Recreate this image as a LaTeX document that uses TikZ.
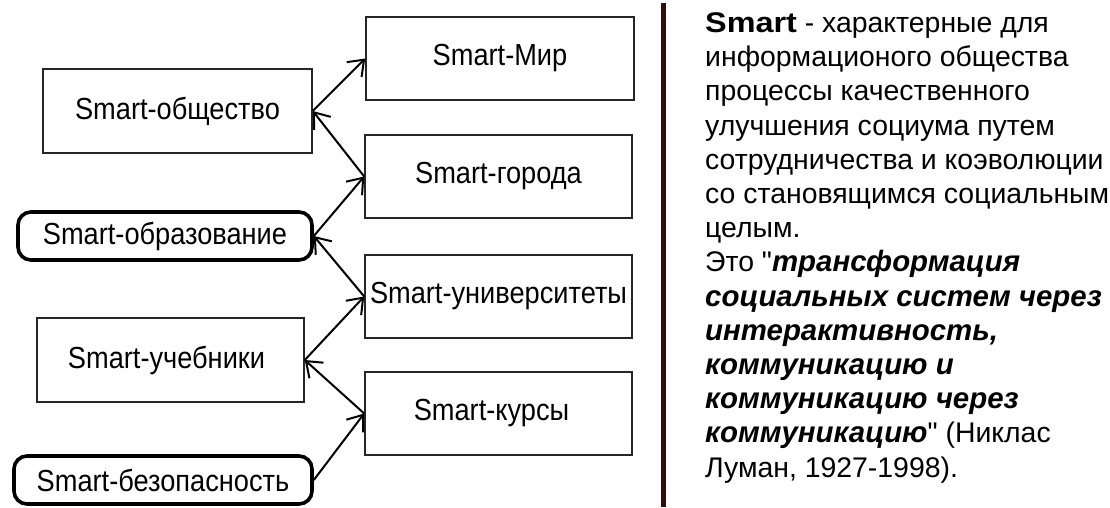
\documentclass[tikz,border=0pt]{standalone}
\usepackage{fontspec}
\setmainfont{Liberation Sans}[Ligatures=TeXOff]
\usetikzlibrary{arrows.meta}
\definecolor{divider}{RGB}{55,12,8}
\newcommand{\boxtxt}[1]{\scalebox{1}[1.12]{#1}}
\newcommand{\bitxt}[1]{{\fontsize{29.4}{34.2}\selectfont\bfseries\itshape #1}}
\begin{document}
\begin{tikzpicture}[x=1pt,y=-1pt,
  sqbox/.style={draw=black!85,line width=1.6pt,minimum width=267pt,minimum height=83pt,inner sep=0pt,font=\fontsize{27.2}{30}\selectfont},
  rbox/.style={draw=black,line width=3.6pt,rounded corners=13pt,minimum height=48pt,inner sep=0pt,font=\fontsize{27.2}{30}\selectfont},
  arr/.style={line width=2pt,-{Straight Barb[length=14pt,width=21pt,line width=2pt]}}]
\useasboundingbox (0,0) rectangle (1110,507);
% left column
\node[sqbox,minimum width=269pt,minimum height=84pt] (obs) at (177.5,111) {\boxtxt{Smart-общество}};
\node[rbox,minimum width=294pt] (obr) at (165,236) {\boxtxt{Smart-образование}};
\node[sqbox,minimum height=84pt] (ucheb) at (170.5,360) {\hspace*{-8pt}\boxtxt{Smart-учебники}};
\node[rbox,minimum width=298pt] (bez) at (163,480) {\boxtxt{Smart-безопасность}};
% right column
\node[sqbox,minimum width=268pt] (mir) at (500,58.5) {\boxtxt{Smart-Мир}};
\node[sqbox] (gor) at (498.5,176.5) {\boxtxt{Smart-города}};
\node[sqbox] (univ) at (498.5,296.5) {\boxtxt{Smart-университеты}};
\node[sqbox] (kurs) at (498.5,413.5) {\hspace*{-14pt}\boxtxt{Smart-курсы}};
% connectors
\draw[arr] (obs.east) -- (mir.west);
\draw[arr] (gor.west) -- (obs.east);
\draw[arr] (obr.east) -- (gor.west);
\draw[arr] (univ.west) -- (obr.east);
\draw[arr] (ucheb.east) -- (univ.west);
\draw[arr] (kurs.west) -- (ucheb.east);
\draw[arr] (bez.east) -- (kurs.west);
% divider
\coordinate (dtop) at (663,3);
\coordinate (dbot) at (663,507);
\draw[line width=5pt,divider] (dtop) -- (dbot);
% description
\node[anchor=north west,inner sep=0pt,align=left,font=\fontsize{28.4}{34.2}\selectfont] (desc) at (705,12.5)
{\scalebox{1.14}[1]{\textbf{Smart}} - характерные для\\
информационого общества\\
процессы качественного\\
улучшения социума путем\\
сотрудничества и коэволюции\\
со становящимся социальным\\
целым.\\
Это "\bitxt{трансформация}\\
\bitxt{социальных систем через}\\
\bitxt{интерактивность,}\\
\bitxt{коммуникацию и}\\
\bitxt{коммуникацию через}\\
\bitxt{коммуникацию}" (Никлас\\
Луман, 1927-1998).};
\end{tikzpicture}
\end{document}
